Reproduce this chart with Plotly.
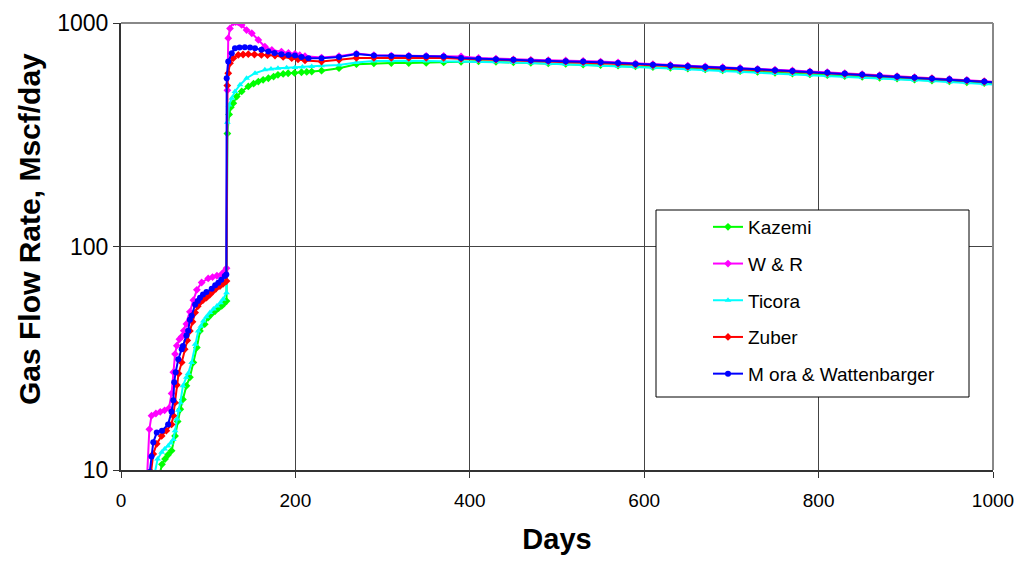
import plotly.graph_objects as go

# ---------------- data ----------------
kazemi_days = [44.5, 47, 50.5, 54, 58, 62, 65, 68, 71, 75, 79, 83, 87, 90.6, 96, 100, 104, 108, 112, 115.5,
               118, 121, 122, 124, 126, 128.8, 132.7, 138.4, 146, 152, 157.5, 163, 169, 175, 180, 186, 191.7,
               199, 207, 213, 218.7]
kazemi_vals = [9.6, 10.6, 11.2, 11.7, 12.2, 14.2, 16.5, 18.7, 20.7, 23.8, 26.0, 30.3, 35.3, 41.9, 44.9, 48.1,
               50, 51.4, 53, 54.2, 55.5, 57, 320, 390, 420, 438, 469, 494, 520, 535, 547, 557, 566, 576, 586,
               592, 596, 598, 602, 604, 606]

wr_days = [30, 32.5, 35, 40, 45, 50, 55, 58, 60, 62, 64, 67, 69.6, 72, 75, 79, 83, 87, 92.5, 100, 105, 110,
           115, 119, 121, 122, 123, 125, 128.8, 131.5, 134.5, 138.4, 144, 150, 157.5, 165, 173, 184, 192,
           199.5, 205, 211]
wr_vals = [9.5, 15.2, 17.5, 17.9, 18.2, 18.5, 18.9, 22, 27.4, 33, 36, 38.5, 39.5, 42, 45, 51, 57.5, 64, 69,
           72, 73, 74, 75, 77.6, 80, 500, 855, 946, 1007, 1010, 1007, 980, 930, 900, 840, 784, 758, 745, 735,
           728, 718, 710]

ticora_days = [38.5, 42, 46.6, 50, 54, 57, 60, 62, 64, 66, 68, 71, 75, 77, 81, 85, 88.6, 91.5, 94.4, 98, 102,
               106, 110, 114, 117, 121, 122, 123.9, 127, 130.7, 136.5, 144, 153.7, 165, 172, 180, 190, 199.5,
               208, 218.7]
ticora_vals = [9.6, 11.2, 12.0, 12.4, 12.8, 13.2, 13.7, 15, 16.9, 18.5, 20.0, 23.8, 26, 27, 30.3, 36.5, 41.9,
               44, 46.4, 48.5, 50.6, 52.5, 54.2, 56, 58, 62.1, 360, 430, 461, 494, 529, 566, 596, 617, 622,
               628, 630, 632, 636, 638]

zuber_days = [34.5, 37, 41, 46.6, 52, 58, 60, 62, 64, 66, 69.6, 73, 76, 79, 82, 85, 88, 90.6, 94, 98, 102,
              105.7, 109, 113.5, 117, 121, 121.9, 123, 125, 128.8, 134.5, 140, 146, 153, 161, 168, 176.6, 186,
              195.8, 203, 211]
zuber_vals = [9.8, 11.8, 13.1, 14.2, 15.0, 16.0, 17.5, 20.0, 24, 27, 30.3, 34.7, 38, 41.9, 46, 50.6, 54, 56.1,
              57.5, 59.0, 61, 63.1, 64.8, 66.5, 68, 70, 525, 596, 661, 696, 720, 723, 725, 723, 720, 718, 715,
              705, 696, 688, 680]

mora_days = [33, 35, 37, 41, 47, 54, 58, 60, 61, 62.7, 65.7, 69.6, 71, 75, 77, 79, 81, 85, 88, 90.6, 94, 98,
             104, 108, 111.6, 115, 119, 120.8, 121.2, 123, 127, 130.7, 136, 142, 148, 153.7, 161, 169, 176, 184,
             192, 199.5, 207, 215]
mora_vals = [9.8, 11.5, 13.3, 14.7, 15.0, 16.0, 18.2, 20.5, 24.7, 27.4, 31.3, 34.7, 35.9, 40, 42, 47, 49, 55,
             57, 59, 61, 62.5, 64.7, 67, 68.9, 71, 73.7, 75, 566, 672, 732, 771, 776, 779, 776, 771, 760, 745,
             735, 725, 720, 715, 705, 696]

# common later days (all series)
late_days = [230, 250, 270, 290, 310, 330, 350, 370, 390, 410, 430, 450, 470, 490, 510, 530, 550, 570, 590,
             610, 630, 650, 670, 690, 710, 730, 750, 770, 790, 810, 830, 850, 870, 890, 910, 930, 950, 970,
             990, 1003]
kazemi_late = [612, 628, 654, 660, 662, 662, 663, 666, 670, 674, 670, 667, 664, 660, 656, 652, 648, 644, 640,
               635, 630, 625, 620, 614, 609, 604, 599, 594, 589, 584, 579, 574, 569, 564, 558, 553, 548, 543,
               538, 534]
wr_late = [700, 710, 730, 718, 715, 714, 712, 712, 708, 698, 692, 688, 684, 682, 680, 676, 672, 666, 660, 654,
           649, 644, 640, 634, 629, 624, 618, 613, 608, 602, 596, 590, 584, 578, 572, 567, 562, 557, 550, 545]
ticora_late = [643, 649, 665, 676, 678, 678, 676, 674, 676, 675, 670, 666, 662, 658, 654, 650, 646, 641, 636,
               630, 625, 620, 615, 609, 604, 600, 595, 590, 585, 580, 575, 570, 565, 560, 555, 550, 545, 540,
               534, 530]
zuber_late = [672, 684, 698, 698, 698, 698, 698, 698, 692, 688, 685, 682, 678, 675, 672, 668, 664, 658, 652,
              647, 642, 637, 632, 627, 622, 617, 612, 607, 602, 597, 591, 585, 579, 574, 568, 563, 557, 552,
              546, 542]
mora_late = [696, 705, 727, 715, 712, 712, 710, 708, 698, 692, 688, 684, 680, 678, 675, 672, 668, 662, 656,
             650, 645, 640, 636, 630, 626, 621, 615, 610, 605, 600, 594, 588, 582, 576, 570, 565, 560, 555,
             548, 543]

series_names = ["Kazemi", "W & R", "Ticora", "Zuber", "M ora & Wattenbarger"]
series_colors = ["#00FF00", "#FF00FF", "#00FFFF", "#FF0000", "#0000FF"]
series_symbols = ["diamond", "diamond", "triangle-up", "diamond", "circle"]

x_ticks = [0, 200, 400, 600, 800, 1000]
y_ticks = [10, 100, 1000]
y_tick_text = ["10", "100", "1000"]

# ---------------- figure ----------------
early = [(kazemi_days, kazemi_vals, kazemi_late), (wr_days, wr_vals, wr_late),
         (ticora_days, ticora_vals, ticora_late), (zuber_days, zuber_vals, zuber_late),
         (mora_days, mora_vals, mora_late)]

fig = go.Figure()
for i, (d, v, lv) in enumerate(early):
    fig.add_trace(go.Scatter(
        x=d + late_days, y=v + lv, mode="lines+markers", name=series_names[i],
        line=dict(color=series_colors[i], width=2),
        marker=dict(color=series_colors[i], size=6, symbol=series_symbols[i]),
        legendgroup=str(i),
    ))

FONT = "Liberation Sans, Arial, Helvetica, sans-serif"
L, R, T, B = 121, 28, 23, 91
W, H = 1021, 561
pw, ph = W - L - R, H - T - B

def px_to_paper_x(px):
    return (px - L) / pw

def px_to_paper_y(py):
    return (H - B - py) / ph

fig.update_layout(
    width=W, height=H,
    margin=dict(l=L, r=R, t=T, b=B, autoexpand=False),
    paper_bgcolor="white", plot_bgcolor="white",
    font=dict(family=FONT, size=19, color="black"),
    showlegend=True,
    legend=dict(
        x=px_to_paper_x(708), y=px_to_paper_y(208), xanchor="left", yanchor="top",
        bgcolor="rgba(0,0,0,0)", borderwidth=0, font=dict(family=FONT, size=19, color="black"),
        tracegroupgap=9,
    ),
    xaxis=dict(
        range=[0, 1000], tickvals=x_ticks, showgrid=True, gridcolor="#444", gridwidth=1,
        showline=True, linecolor="#333", linewidth=2, ticks="outside", ticklen=6, tickcolor="#333",
        tickfont=dict(family=FONT, size=19), ticklabelstandoff=6, zeroline=False,
        title=dict(text="<b>Days</b>", font=dict(family=FONT, size=29), standoff=19),
    ),
    yaxis=dict(
        type="log", range=[1, 3], tickvals=y_ticks, ticktext=y_tick_text, showgrid=True,
        gridcolor="#444", gridwidth=1, showline=True, linecolor="#333", linewidth=2,
        ticks="outside", ticklen=6, tickcolor="#333", tickfont=dict(family=FONT, size=23),
        zeroline=False,
    ),
    annotations=[
        dict(text="<b>Gas Flow Rate, Mscf/day</b>", xref="paper", yref="paper",
             x=px_to_paper_x(30), y=px_to_paper_y(229), xanchor="center", yanchor="middle",
             textangle=-90, showarrow=False, font=dict(family=FONT, size=30, color="black")),
    ],
    shapes=[
        # plot-area border (top and right, grey)
        dict(type="line", xref="paper", yref="paper", x0=0, x1=1, y0=1, y1=1,
             line=dict(color="#888", width=2)),
        dict(type="line", xref="paper", yref="paper", x0=1, x1=1, y0=0, y1=1,
             line=dict(color="#888", width=2)),
        # legend box
        dict(type="rect", xref="paper", yref="paper",
             x0=px_to_paper_x(656), x1=px_to_paper_x(969), y0=px_to_paper_y(397), y1=px_to_paper_y(210),
             line=dict(color="black", width=1), fillcolor="white", layer="above"),
    ],
)

fig.write_html("out.html")
